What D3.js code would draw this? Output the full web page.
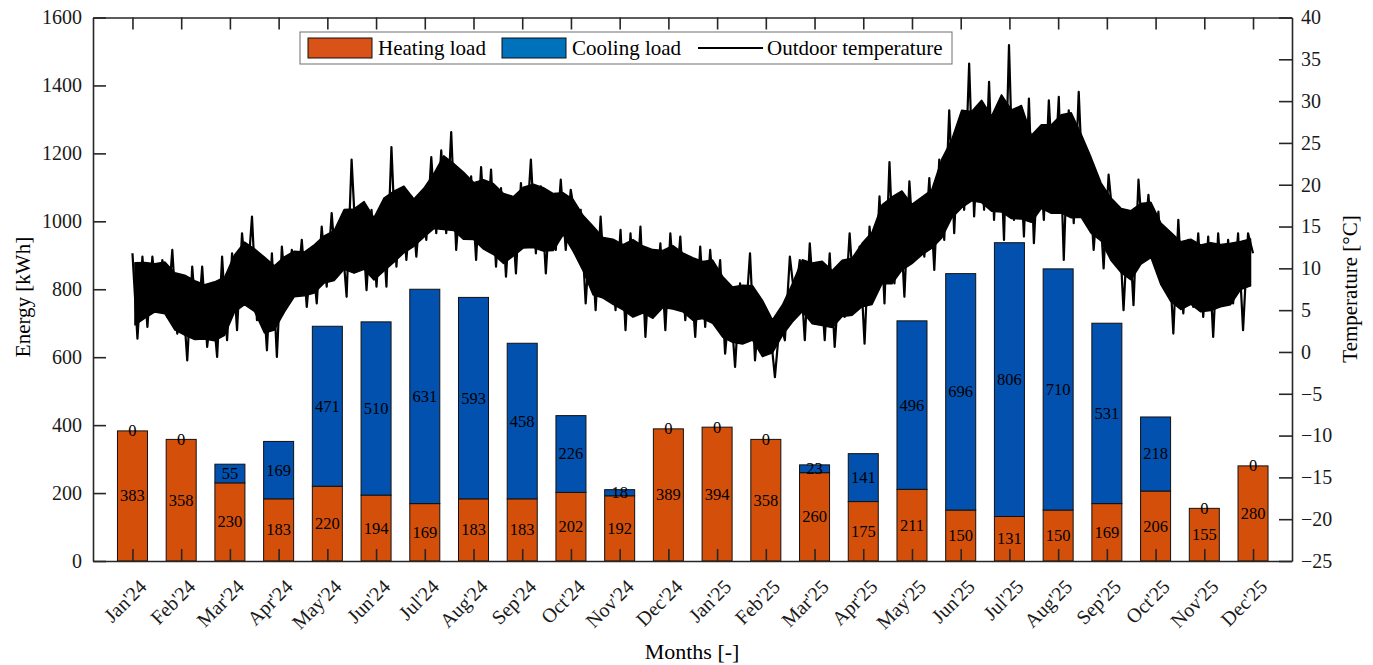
<!DOCTYPE html>
<html>
<head>
<meta charset="utf-8">
<script src="https://cdn.jsdelivr.net/npm/d3@7"></script>
<style>
  body { margin: 0; background: #fff; }
  svg { display: block; font-family: "Liberation Serif", "Times New Roman", serif; }
</style>
</head>
<body>
<svg id="chart" width="1373" height="665"></svg>
<script>
// monthly loads
const months = ["Jan'24", "Feb'24", "Mar'24", "Apr'24", "May'24", "Jun'24", "Jul'24", "Aug'24",
  "Sep'24", "Oct'24", "Nov'24", "Dec'24", "Jan'25", "Feb'25", "Mar'25", "Apr'25", "May'25",
  "Jun'25", "Jul'25", "Aug'25", "Sep'25", "Oct'25", "Nov'25", "Dec'25"];
const heatingLoad = [383, 358, 230, 183, 220, 194, 169, 183, 183, 202, 192, 389,
  394, 358, 260, 175, 211, 150, 131, 150, 169, 206, 155, 280];
const coolingLoad = [0, 0, 55, 169, 471, 510, 631, 593, 458, 226, 18, 0,
  0, 0, 23, 141, 496, 696, 806, 710, 531, 218, 0, 0];

const energyTicks = [0, 200, 400, 600, 800, 1000, 1200, 1400, 1600];
const tempTicks = [-25, -20, -15, -10, -5, 0, 5, 10, 15, 20, 25, 30, 35, 40];
const legendLabels = ['Heating load', 'Cooling load', 'Outdoor temperature'];

// outdoor temperature [°C], read as alternating highs/lows every ~5 px along the trace
const outdoorTemp = [
  11.8, 1.6, 11.4, 3.0, 11.4, 5.0, 11.0, 4.2, 12.2, 2.2,
  7.8, -1.0, 10.2, 2.2, 10.2, 0.6, 6.2, -0.6, 11.4, 1.4,
  11.8, 2.6, 14.2, 7.8, 16.2, 3.8, 9.4, 0.2, 11.8, -0.6,
  12.6, 5.4, 12.2, 7.0, 13.4, 5.4, 12.2, 5.8, 15.0, 7.8,
  16.6, 9.0, 14.2, 6.6, 23.0, 11.4, 17.0, 7.4, 17.0, 7.8,
  17.0, 7.8, 24.5, 10.2, 19.4, 11.0,
  18.6, 11.4, 19.0, 13.4, 23.3, 14.2, 24.1, 14.2, 26.3, 12.2,
  20.2, 14.2, 21.0, 11.0, 22.1, 12.6, 21.8, 10.2, 19.6, 9.0,
  18.6, 9.4, 20.2, 13.4, 23.0, 11.8, 19.8, 9.4, 19.0, 12.2,
  20.6, 12.2, 19.4, 15.8, 17.0, 5.8, 15.0, 5.0, 16.2, 6.6,
  12.6, 5.0, 14.6, 2.6, 14.2, 4.6, 15.0, 1.8, 11.8, 4.6,
  13.0, 2.6, 14.2, 6.2, 13.8, 3.8,
  10.2, 1.8, 12.6, 3.0, 12.2, 4.6, 11.0, -0.2, 6.6, -1.8,
  8.2, 3.0, 11.8, -1.0, 6.2, -0.2, 3.0, -3.0, 3.8, 1.4,
  11.4, 6.2, 11.0, 1.4, 13.0, 4.6, 10.6, 1.4, 11.8, 0.6,
  9.4, 4.2, 14.2, 5.4, 12.6, 1.0, 15.0, 7.0, 18.6, 5.8,
  22.7, 8.2, 18.2, 6.6, 20.4, 11.0, 17.0, 11.4, 20.8, 9.8,
  23.0, 13.4, 28.9, 14.2, 27.7, 17.0,
  34.5, 16.2, 28.1, 17.0, 32.3, 15.8, 28.5, 13.4, 36.7, 15.8,
  26.5, 13.8, 30.3, 13.0, 24.9, 15.8, 30.1, 19.0, 30.5, 11.0,
  28.9, 15.4, 31.1, 17.0, 21.8, 12.2, 20.2, 10.0, 21.2, 15.0,
  16.6, 5.0, 16.6, 5.6, 20.6, 12.2, 18.8, 11.0, 16.8, 8.2,
  13.4, 2.2, 15.8, 4.6, 13.4, 5.4, 14.2, 4.2, 13.8, 1.8,
  14.2, 5.8, 13.4, 5.8, 14.2, 2.6, 14.2, 11.8
];

const HEAT_BAR = '#D4500A';
const COOL_BAR = '#0351AE';
const HEAT_LEGEND = '#D95319';
const COOL_LEGEND = '#0072BD';
const AXIS = '#262626';

const svg = d3.select('#chart');
const box = {left: 93, right: 1292, top: 17.5, bottom: 561};

const x = d3.scaleLinear().domain([0.19, 24.8]).range([box.left, box.right]);
const yE = d3.scaleLinear().domain([0, 1600]).range([box.bottom, box.top]);
const yT = d3.scaleLinear().domain([-25, 40]).range([box.bottom, box.top]);

const rows = months.map((m, i) => ({
  month: m, pos: i + 1, heat: heatingLoad[i], cool: coolingLoad[i]
}));

/**
 * stacked bars: heating at the bottom, cooling on top, with value labels
 */
function drawBars() {
  const barW = (x(2) - x(1)) * 0.616;
  const g = svg.append('g').attr('class', 'bars');
  const bar = g.selectAll('.bar').data(rows).enter().append('g').attr('class', 'bar');

  bar.append('rect')
    .attr('x', d => x(d.pos) - barW / 2)
    .attr('y', d => yE(d.heat))
    .attr('width', barW)
    .attr('height', d => yE(0) - yE(d.heat))
    .attr('fill', HEAT_BAR)
    .attr('stroke', '#111')
    .attr('stroke-width', 1);
  bar.append('rect')
    .attr('x', d => x(d.pos) - barW / 2)
    .attr('y', d => yE(d.heat + d.cool))
    .attr('width', barW)
    .attr('height', d => yE(d.heat) - yE(d.heat + d.cool))
    .attr('fill', COOL_BAR)
    .attr('stroke', '#111')
    .attr('stroke-width', d => (d.cool === 0 ? 1.6 : 1));

  bar.append('text')
    .attr('x', d => x(d.pos))
    .attr('y', d => yE(d.heat / 2))
    .attr('text-anchor', 'middle')
    .attr('dominant-baseline', 'central')
    .attr('font-size', 16.5)
    .text(d => d.heat);
  bar.append('text')
    .attr('x', d => x(d.pos))
    .attr('y', d => yE(d.heat + d.cool / 2))
    .attr('text-anchor', 'middle')
    .attr('dominant-baseline', 'central')
    .attr('font-size', 16.5)
    .text(d => d.cool);
}

/**
 * the hourly trace reads as a dense black band: a filled core (running mean of the
 * neighbouring highs/lows, pulled in a bit), with the zigzag through the raw readings
 * on top so the ragged edges and spikes show
 */
function drawTemperature() {
  const n = outdoorTemp.length;
  const xAt = i => x(1 + (i * 23) / (n - 1));

  const pairs = d3.range(0, n - 1, 2).map(k => ({pos: k + 0.5, hi: outdoorTemp[k], lo: outdoorTemp[k + 1]}));
  pairs.forEach((p, j) => {
    const nb = pairs.slice(Math.max(0, j - 1), j + 2);
    const top = d3.mean(nb, d => d.hi);
    const bot = d3.mean(nb, d => d.lo);
    const mid = (top + bot) / 2;
    p.top = mid + (top - mid) * 0.8;
    p.bot = mid - (mid - bot) * 0.8;
  });

  const core = d3.area()
    .x(d => xAt(d.pos))
    .y0(d => yT(d.bot))
    .y1(d => yT(d.top));
  svg.append('path')
    .datum(pairs)
    .attr('d', core)
    .attr('fill', '#000')
    .attr('stroke', '#000')
    .attr('stroke-width', 1.5)
    .attr('stroke-linejoin', 'round');

  const line = d3.line()
    .x((d, i) => xAt(i))
    .y(d => yT(d));
  svg.append('path')
    .datum(outdoorTemp)
    .attr('d', line)
    .attr('fill', 'none')
    .attr('stroke', '#000')
    .attr('stroke-width', 2.2)
    .attr('stroke-linejoin', 'round');
}

// restyle a d3 axis group to look like the matlab one
function styleAxis(g) {
  g.attr('font-family', null).attr('font-size', 20);
  g.select('.domain').attr('stroke', AXIS).attr('stroke-width', 1.6);
  g.selectAll('.tick line').attr('stroke', AXIS).attr('stroke-width', 1.6);
  g.selectAll('.tick text').attr('fill', '#1a1a1a');
}

function drawAxes() {
  const monthPos = rows.map(d => d.pos);

  svg.append('g')
    .attr('transform', `translate(${box.left},0)`)
    .call(d3.axisLeft(yE).tickValues(energyTicks).tickFormat(d3.format('d'))
      .tickSize(-13).tickPadding(11).tickSizeOuter(0))
    .call(styleAxis);

  svg.append('g')
    .attr('transform', `translate(${box.right},0)`)
    .call(d3.axisRight(yT).tickValues(tempTicks).tickFormat(d3.format('d'))
      .tickSize(-13).tickPadding(9).tickSizeOuter(0))
    .call(styleAxis);

  svg.append('g')
    .attr('transform', `translate(0,${box.top})`)
    .call(d3.axisTop(x).tickValues(monthPos).tickFormat('').tickSize(-12).tickSizeOuter(0))
    .call(styleAxis);

  const bottom = svg.append('g')
    .attr('transform', `translate(0,${box.bottom})`)
    .call(d3.axisBottom(x).tickValues(monthPos).tickFormat(d => months[d - 1]).tickSize(-12).tickSizeOuter(0))
    .call(styleAxis);
  bottom.selectAll('.tick text')
    .attr('x', 0)
    .attr('y', 0)
    .attr('dy', '0.35em')
    .attr('text-anchor', 'end')
    .attr('transform', 'translate(10,22) rotate(-45)');

  // axis titles
  svg.append('text')
    .attr('transform', 'translate(30,297) rotate(-90)')
    .attr('text-anchor', 'middle')
    .attr('font-size', 21)
    .text('Energy [kWh]');
  svg.append('text')
    .attr('transform', 'translate(1357,289) rotate(-90)')
    .attr('text-anchor', 'middle')
    .attr('font-size', 21)
    .text('Temperature [°C]');
  svg.append('text')
    .attr('x', 692)
    .attr('y', 659)
    .attr('text-anchor', 'middle')
    .attr('font-size', 22)
    .text('Months [-]');
}

function drawLegend() {
  const g = svg.append('g').attr('class', 'legend');
  g.append('rect')
    .attr('x', 300).attr('y', 32).attr('width', 652).attr('height', 32)
    .attr('fill', '#fff').attr('stroke', '#6e6e6e').attr('stroke-width', 1);

  const items = [
    {label: legendLabels[0], kind: 'box', color: HEAT_LEGEND, x0: 308, tx: 378},
    {label: legendLabels[1], kind: 'box', color: COOL_LEGEND, x0: 502, tx: 572},
    {label: legendLabels[2], kind: 'line', color: '#000', x0: 698, tx: 767}
  ];
  items.forEach(it => {
    if (it.kind === 'box') {
      g.append('rect')
        .attr('x', it.x0).attr('y', 38).attr('width', 64).attr('height', 20)
        .attr('fill', it.color).attr('stroke', '#111').attr('stroke-width', 1);
    } else {
      g.append('line')
        .attr('x1', it.x0).attr('x2', it.x0 + 65).attr('y1', 48).attr('y2', 48)
        .attr('stroke', it.color).attr('stroke-width', 2);
    }
    g.append('text')
      .attr('x', it.tx).attr('y', 48)
      .attr('dominant-baseline', 'central')
      .attr('font-size', 21)
      .text(it.label);
  });
}

drawBars();
drawTemperature();
drawAxes();
drawLegend();
</script>
</body>
</html>
